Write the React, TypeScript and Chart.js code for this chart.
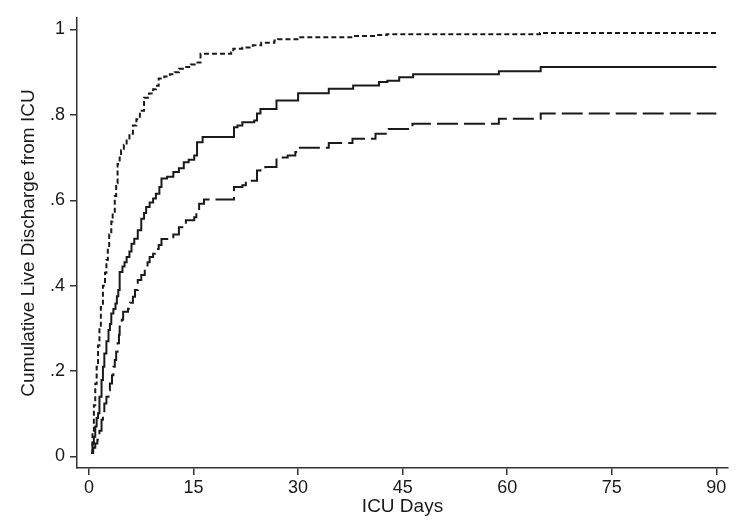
import React, { useEffect, useRef } from "react";
import { Chart, registerables } from "chart.js";

Chart.register(...registerables);

// Kaplan–Meier style step points: [ICU day, cumulative live discharge]
const dottedSteps: [number, number][] = [
  [0.3, 0.008], [0.5, 0.06], [0.7, 0.12], [0.9, 0.17], [1.1, 0.21], [1.3, 0.26],
  [1.5, 0.3], [1.7, 0.35], [2.0, 0.4], [2.3, 0.43], [2.5, 0.46], [2.7, 0.49],
  [2.9, 0.52], [3.2, 0.55], [3.4, 0.57], [3.7, 0.61], [3.9, 0.64], [4.1, 0.685],
  [4.4, 0.7], [4.6, 0.717], [5.0, 0.73], [5.4, 0.745], [5.8, 0.756], [6.3, 0.775],
  [6.8, 0.79], [7.3, 0.81], [7.9, 0.84], [8.6, 0.85], [9.2, 0.86], [9.6, 0.868],
  [10.0, 0.885], [10.8, 0.89], [11.6, 0.895], [12.3, 0.9], [12.9, 0.908], [13.8, 0.912],
  [14.6, 0.918], [15.3, 0.923], [16.0, 0.943], [20.4, 0.947], [20.7, 0.955], [22.0, 0.958],
  [23.5, 0.963], [24.7, 0.969], [26.6, 0.974], [27.1, 0.977], [30.1, 0.982], [37.9, 0.985],
  [41.2, 0.987], [42.7, 0.989], [64.7, 0.992], [90, 0.992],
];

const solidSteps: [number, number][] = [
  [0.3, 0.008], [0.5, 0.03], [0.7, 0.046], [0.9, 0.07], [1.1, 0.09], [1.3, 0.101],
  [1.5, 0.14], [1.8, 0.179], [2.0, 0.21], [2.2, 0.241], [2.5, 0.27], [2.8, 0.296],
  [3.0, 0.31], [3.2, 0.335], [3.5, 0.345], [3.8, 0.358], [4.0, 0.375], [4.2, 0.39],
  [4.4, 0.432], [4.8, 0.445], [5.1, 0.455], [5.4, 0.467], [5.8, 0.48], [6.1, 0.498],
  [6.5, 0.51], [7.0, 0.53], [7.5, 0.557], [7.9, 0.57], [8.2, 0.584], [8.7, 0.595],
  [9.2, 0.604], [9.6, 0.615], [10.1, 0.631], [10.4, 0.651], [11.2, 0.655], [12.1, 0.666],
  [12.9, 0.675], [13.6, 0.689], [14.3, 0.695], [15.1, 0.705], [15.5, 0.736], [16.3, 0.748],
  [20.8, 0.771], [21.3, 0.775], [22.0, 0.783], [23.7, 0.787], [24.1, 0.803], [24.6, 0.814],
  [26.9, 0.834], [30.0, 0.851], [34.4, 0.861], [37.9, 0.869], [41.6, 0.877], [42.8, 0.88],
  [44.5, 0.888], [46.5, 0.895], [58.8, 0.902], [64.8, 0.912], [90, 0.912],
];

const dashedSteps: [number, number][] = [
  [0.3, 0.008], [0.6, 0.02], [0.9, 0.03], [1.2, 0.039], [1.5, 0.06], [1.8, 0.086],
  [2.0, 0.1], [2.2, 0.124], [2.5, 0.14], [2.8, 0.155], [3.0, 0.171], [3.3, 0.19],
  [3.5, 0.21], [3.7, 0.226], [3.9, 0.245], [4.1, 0.265], [4.3, 0.285], [4.4, 0.304],
  [4.7, 0.32], [4.9, 0.339], [5.6, 0.346], [5.9, 0.36], [6.3, 0.374], [6.6, 0.39],
  [7.0, 0.413], [7.5, 0.425], [8.0, 0.444], [8.4, 0.455], [8.7, 0.467], [9.2, 0.475],
  [9.7, 0.486], [10.0, 0.495], [10.4, 0.509], [12.1, 0.52], [12.9, 0.537], [13.9, 0.553],
  [15.1, 0.56], [15.4, 0.575], [15.8, 0.592], [16.5, 0.602], [20.8, 0.631], [22.0, 0.635],
  [22.5, 0.646], [24.1, 0.67], [24.6, 0.674], [25.3, 0.678], [26.9, 0.7], [28.5, 0.705],
  [29.6, 0.713], [30.1, 0.723], [34.4, 0.734], [37.8, 0.744], [41.1, 0.756], [43.0, 0.767],
  [46.4, 0.779], [58.8, 0.791], [64.8, 0.803], [90, 0.803],
];

const xTickValues = [0, 15, 30, 45, 60, 75, 90];
const yTickValues = [0, 0.2, 0.4, 0.6, 0.8, 1];
const yTickLabels = ["0", ".2", ".4", ".6", ".8", "1"];
const xTitle = "ICU Days";
const yTitle = "Cumulative Live Discharge from ICU";

const FONT = "'Liberation Sans', Arial, Helvetica, sans-serif";
const INK = "#1a1a1a";
const AXIS = "#333333";

function toPoints(steps: [number, number][]) {
  return steps.map(([x, y]) => ({ x, y }));
}

export default function App() {
  const canvasRef = useRef<HTMLCanvasElement | null>(null);

  useEffect(() => {
    document.body.style.margin = "0";
    const canvas = canvasRef.current;
    if (!canvas) return;

    const lineBase = {
      borderColor: INK,
      borderWidth: 2,
      pointRadius: 0,
      pointHoverRadius: 0,
      fill: false,
      stepped: "before" as const,
      tension: 0,
    };

    const chart = new Chart(canvas, {
      type: "line",
      data: {
        datasets: [
          { ...lineBase, label: "dotted", data: toPoints(dottedSteps), borderDash: [5, 3] },
          { ...lineBase, label: "solid", data: toPoints(solidSteps) },
          { ...lineBase, label: "dashed", data: toPoints(dashedSteps), borderDash: [21, 6] },
        ],
      },
      options: {
        responsive: false,
        animation: false,
        devicePixelRatio: 1,
        parsing: false,
        normalized: true,
        layout: { padding: { top: 18, right: 9, left: 0, bottom: 0 } },
        plugins: {
          legend: { display: false },
          tooltip: { enabled: false },
          title: { display: false },
        },
        events: [],
        scales: {
          x: {
            type: "linear",
            min: -1.72,
            max: 91.67,
            afterBuildTicks: (scale: any) => {
              scale.ticks = xTickValues.map((v) => ({ value: v }));
            },
            afterFit: (scale: any) => {
              scale.height = 52;
            },
            ticks: {
              autoSkip: false,
              maxRotation: 0,
              padding: 2,
              color: INK,
              font: { family: FONT, size: 18 },
              callback: (v: any) => String(v),
            },
            grid: {
              display: true,
              drawOnChartArea: false,
              drawTicks: true,
              tickLength: 7,
              color: AXIS,
              lineWidth: 1.5,
            },
            border: { display: true, color: AXIS, width: 1.5 },
            title: {
              display: true,
              text: xTitle,
              color: INK,
              font: { family: FONT, size: 19 },
              padding: { top: 0, bottom: 2 },
            },
          },
          y: {
            type: "linear",
            min: -0.0272,
            max: 1.027,
            afterBuildTicks: (scale: any) => {
              scale.ticks = yTickValues.map((v) => ({ value: v }));
            },
            afterFit: (scale: any) => {
              scale.width = 77;
            },
            ticks: {
              autoSkip: false,
              padding: 5,
              color: INK,
              font: { family: FONT, size: 18 },
              callback: (_v: any, i: number) => yTickLabels[i],
            },
            grid: {
              display: true,
              drawOnChartArea: false,
              drawTicks: true,
              tickLength: 7,
              color: AXIS,
              lineWidth: 1.5,
            },
            border: { display: true, color: AXIS, width: 1.5 },
            title: {
              display: true,
              text: yTitle,
              color: INK,
              font: { family: FONT, size: 19 },
              padding: { top: 17, bottom: 0 },
            },
          },
        },
      },
    });

    return () => {
      chart.destroy();
    };
  }, []);

  return (
    <div style={{ position: "absolute", left: 0, top: 0, width: 737, height: 520, background: "#fff" }}>
      <canvas ref={canvasRef} width={737} height={520} style={{ display: "block", width: 737, height: 520 }} />
    </div>
  );
}
